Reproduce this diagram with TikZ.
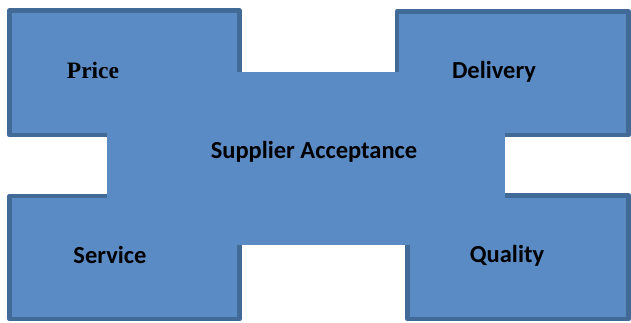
\documentclass[tikz,border=0pt]{standalone}
\usepackage{fontspec}
\setmainfont{Carlito}
\newfontfamily\pricefont{Liberation Serif}
\definecolor{boxfill}{RGB}{91,139,197}
\definecolor{boxline}{RGB}{66,106,151}
\tikzset{
  cornerbox/.style={fill=boxfill,draw=boxline,line width=4.5pt,line join=round},
  lbl/.style={font=\bfseries\fontsize{24.5}{28}\selectfont,text=black,inner sep=0pt}
}
\begin{document}
\begin{tikzpicture}[x=1pt,y=-1pt]
        \useasboundingbox (0,0) rectangle (631,323);

        \draw[cornerbox] (9.5,10.5) rectangle (239.5,135);
        \draw[cornerbox] (397,11.5) rectangle (628.5,135);
        \draw[cornerbox] (9.5,196) rectangle (239.5,319);
        \draw[cornerbox] (407.5,195.5) rectangle (628.5,319);
        \fill[boxfill] (107,72) rectangle (505,245);

        \node[lbl,font=\pricefont\bfseries\fontsize{23.5}{27}\selectfont] (price) at (93,70) {Price};
        \node[lbl] (delivery) at (494,72) {Delivery};
        \node[lbl] (accept) at (314,152) {Supplier Acceptance};
        \node[lbl] (service) at (110,255) {Service};
        \node[lbl] (quality) at (507,256) {Quality};
    \end{tikzpicture}
\end{document}
